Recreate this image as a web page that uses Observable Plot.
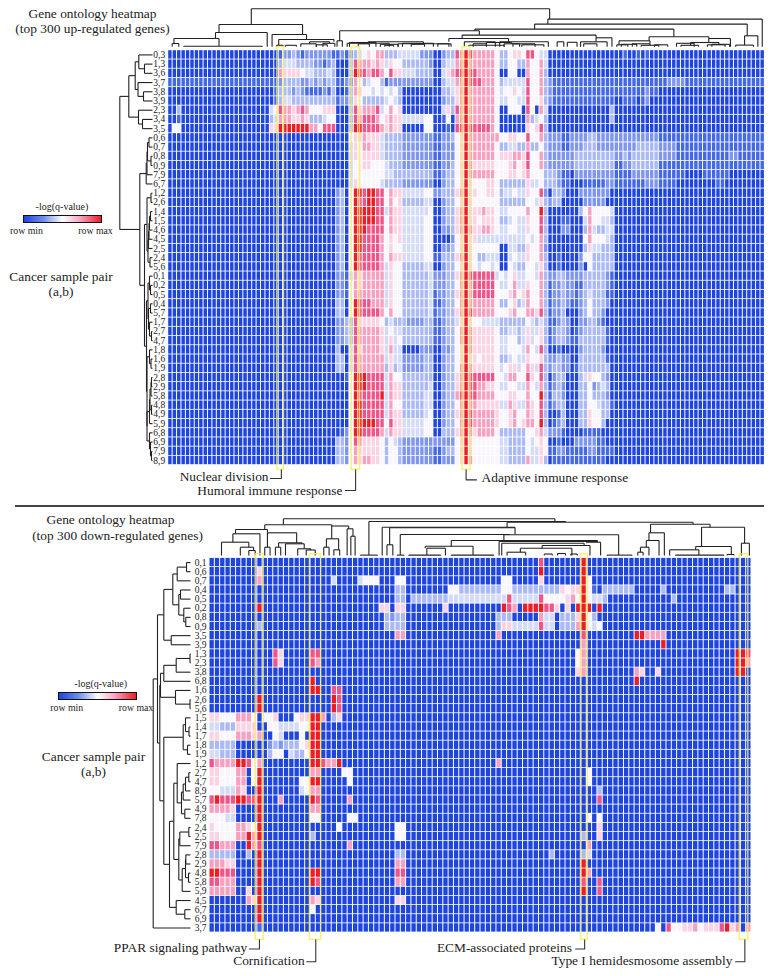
<!DOCTYPE html>
<html>
<head>
<meta charset="utf-8">
<script src="https://cdn.jsdelivr.net/npm/d3@7"></script>
<script src="https://cdn.jsdelivr.net/npm/@observablehq/plot@0.6"></script>
<style>
html,body{margin:0;padding:0;background:#fff}
#page{position:relative;width:772px;height:976px;overflow:hidden;font-family:"Liberation Serif",serif;color:#222}
#page svg{position:absolute;left:0;background:transparent}
.t{position:absolute;white-space:nowrap;transform:translate(-50%,-50%);text-align:center}
.bar{position:absolute;border:1px solid #111;box-sizing:border-box;background:linear-gradient(90deg,#1f45e0 0%,#6f8bee 25%,#fff 50%,#f9a6c4 72%,#ee1c25 100%)}
</style>
</head>
<body>
<div id="page"></div>
<script>
// Level code: 0 = row min (blue), 5 = white, 9 = row max (red)
const levelDomain = [0,1,2,3,4,5,6,7,8,9];
const levelColors = ["#1f45e0","#4468e6","#7f96ee","#abbaf4","#d3dbf9","#f8f6fc","#fcd3e2","#f8a0c0","#f0558a","#ee1c25"];

const upLabels = ["0,3","1,3","3,6","3,7","3,8","3,9","2,3","3,4","3,5","0,6","0,7","0,8","0,9","7,9","6,7","1,2","2,6","1,4","1,5","4,6","4,5","2,5","2,4","5,6","0,1","0,2","0,5","0,4","5,7","1,7","2,7","4,7","1,8","1,6","1,9","2,8","2,9","5,8","4,8","4,9","5,9","6,8","6,9","7,9","8,9"];
const downLabels = ["0,1","0,6","0,7","0,4","0,5","0,2","0,8","0,9","3,5","3,9","1,3","2,3","3,8","6,8","1,6","2,6","5,6","1,5","1,4","1,7","1,8","1,9","1,2","2,7","4,7","8,9","5,7","4,9","7,8","2,4","2,5","7,9","2,8","2,9","4,8","5,8","5,9","4,5","6,7","6,9","3,7"];

const upRows = [
"00000000000000000000000 001223212222221121 2345657 733344444222 0023387 9 877777 533566588544 000000000000000 0010010100000000000000000000000000",
"00000000000000000000000 003444333322123000 3877767 646553333332 0034477 9 777777 533553375574 000000000000000 0000000000000000000000000000000000",
"00000000000000000000000 007666654433343000 3988788 758664443333 0046788 9 887777 500550075573 000000000000000 0000000000000000000000000000000000",
"11111111111111111111111 112333322323233112 2753455 312222222222 0034477 9 888777 534444485573 211111111111111 1111111111112222111111111111111111",
"00000000000000000000000 013332321111213001 3765545 454530000000 0033467 9 777777 545565485573 211111111111111 1111111211000000000000000000000000",
"00000000000000000000000 013443333333333122 3653333 345430000000 0023367 9 777777 544554485563 211111111111111 0011101200000000000000000000000000",
"00300000000000000000000 458776787555666000 3867778 457560000000 0046387 9 777777 500555085074 000000000000003 0000000000000000000000000000000000",
"00100000000000000000000 347776676333455000 3878887 567664444455 0015077 9 777777 500000073453 000000000000003 0000000000000000000000000000000000",
"05500000000000000000000 669999999775888000 3998888 767660000055 0001088 9 888887 500000065683 000000000000000 0000000000000000000000000000000000",
"00000000000000000000000 000000000000000000 5667666 433332222222 1122356 9 777777 755665585573 222112222332222 2222222222111111111111111111111111",
"00000000000000000000000 000000000000000000 4657766 433332222222 1122256 9 777777 533443373353 222112223332222 2222233333222211111111111111111111",
"00000000000000000000000 000000000000000000 4656666 433332222222 1122256 9 777777 566677685573 222222333333333 2232333333222211111111111122111111",
"00000000000000000000000 000000000000000000 4556655 543332222222 1122356 9 766666 555675685573 222222333333333 1122333333111111111111111111111111",
"00000000000000000000000 000000000000000000 4555555 544333333333 1123356 9 777777 555665675553 332110222222222 1111222222111111000011111100000000",
"00000000000000000000000 000000000000000000 4655555 433332222222 0023356 9 655566 533333364453 332110001111122 1111111222111100000000011000000000",
"00000000000000000000000 000000000000000230 5998998 857664444455 2233367 9 665566 534454465582 033200022222220 0000000000000000000000000000000000",
"00000000000000000000000 000000000000000230 5988998 857563333344 0023356 9 655555 533333355463 233000002222200 0000000000000000000000000000000000",
"00000000000000000000000 000000000000000230 5999998 847664444445 0023367 9 666766 544555575593 000000035755554 0000000000000000000000000000000000",
"00000000000000000000000 000000000000000230 5999998 857664444455 0023367 9 665666 533454465583 000110004755443 0000000000000000000000000000000000",
"00000000000000000000000 000000000000000230 5999888 857664444455 0022367 9 766776 544554465583 000220003743344 0000000000000000000000000000000000",
"00000000000000000000000 000000000000000230 5998888 756564444455 0000256 9 664444 444444454573 000000005755543 0000000000000000000000000000000000",
"00000000000000000000000 000000000000000230 5998888 756554444455 0022356 9 655555 500443365572 000000003644333 0000000000000000000000000000000000",
"00000000000000000000000 000000000000000230 5988888 757664444455 1133367 9 653344 400454465573 001000025533333 0000000000000000000000000000000000",
"00000000000000000000000 000000000000000230 5988888 746553333344 0023356 9 654554 500543355463 001000020533333 0000000000000000000000000000000000",
"00000000000000000000000 000000000000000221 4767777 746553333334 2223367 9 888888 454564455473 223322223333321 0000000000000000000000000000000000",
"00000000000000000000000 000000000000000221 5767777 746553333334 2223357 9 788888 544574465573 122322113333321 0000000000000000000000000000000000",
"00000000000000000000000 000000000000000221 5777777 746553333334 1223367 9 788888 555675675573 122322123433311 0000000000000000000000000000000000",
"00000000000000000000000 000000000000000330 5988877 746553333334 1123357 9 777777 533563475573 122321123533320 0000000000000000000000000000000000",
"00000000000000000000000 000000000000000330 5988888 757553333334 1223367 9 877777 555675577683 122300023533200 0000000000000000000000000000000000",
"00000000000000000000000 000000000000000223 3866666 534333222233 1123346 9 655444 433333354343 112320022332100 0000000000000000000000000000000000",
"00000000000000000000000 000000000000000223 3877777 645443333333 1123357 9 766666 533443464463 123320123333310 0000000000000000000000000000000000",
"00000000000000000000000 000000000000000223 3877777 646453333333 1123357 9 766666 544553464563 123321133333310 0000000000000000000000000000000000",
"00000000000000000000000 000000000000000300 4867777 647440000222 0022356 9 766666 544555475483 001000023333200 0000000000000000000000000000000000",
"00000000000000000000000 000000000000000330 4877777 746442222233 0023356 9 665666 533454465563 223220033333310 0000000000000000000000000000000000",
"00000000000000000000000 000000000000000330 4877777 736342222233 0023357 9 766666 545664576483 233220133333330 0000000000000000000000000000000000",
"00000000000000000000000 000000000000000001 5999888 847553333333 0023367 9 888888 554775586583 023300034655320 0000000000000000000000000000000000",
"00000000000000000000000 000000000000000000 5999888 847663333334 0023367 9 887766 544554475473 123200033523430 0000000000000000000000000000000000",
"00000000000000000000000 000000000000000000 5988888 947663333344 0023378 9 887777 555665575593 133200033533320 0000000000000000000000000000000000",
"00000000000000000000000 000000000000000000 5998888 847553333344 0023357 9 776666 644764476583 123300033554331 0000000000000000000000000000000000",
"00000000000000000000000 000000000000000000 5998888 847663333345 0023367 9 877777 655675576583 001300033655330 0000000000000000000000000000000000",
"00000000000000000000000 000000000000000000 5999998 858664444455 0023357 9 877777 655675677593 012300033655300 0000000000000000000000000000000000",
"00000000000000000000000 000000000000000012 5998888 747664444455 0033367 9 767777 533333355674 222100001111000 0000000000000000000000000000000000",
"00000000000000000000000 000000000000000332 5876666 535432222222 2222256 9 655555 544333354565 001000222221100 0000000000000000000000000000000000",
"00000000000000000000000 000000000000000332 5766666 535532222222 1123356 9 655555 544333354465 112211111221111 0000000000000000000000000000000000",
"00000000000000000000000 000000000000000332 5767766 535532222222 1122256 9 755555 544333374463 011111111111100 0000000000000000000000000000000000"
];

const Z = "0000000000";
const downRows = [
[Z,Z,Z,Z,Z,Z,"0080000000","9000000000",Z,Z,"00"],
["0000000006",Z,Z,Z,Z,Z,"0090000000","9000000000",Z,Z,"00"],
["0000000007",Z,"0004000045","5500055000",Z,"0000055000","0060000000","9500000000",Z,Z,"00"],
[Z,Z,Z,"0000033000","0000055333","3333355333","3333336566","9510333333","0000030000","0000000330","00"],
[Z,Z,Z,"0000033033","3333344444","4444448444","4485555675","9544300000","0000000300",Z,"00"],
["0000000009",Z,Z,"0066066000","0000600000","0000098709","9998860609","9909000000",Z,Z,"00"],
[Z,Z,Z,"0003233000",Z,"0000333000","0074403336","9530000000",Z,Z,"00"],
["0000000003",Z,Z,"0003333000",Z,"0000366444","4484403337","9545000000",Z,Z,"00"],
[Z,Z,Z,"0000077000",Z,"0000700000",Z,"8000000000","9977770000",Z,"00"],
[Z,Z,Z,Z,Z,Z,Z,"7000000000","0000090000",Z,"00"],
[Z,"0086000008","8000000000",Z,Z,Z,"0000000005","7000000000",Z,"0000000009","98"],
[Z,"0086000008","7000000000",Z,Z,Z,"0000000005","7000000000",Z,"0000000009","97"],
[Z,Z,Z,Z,Z,Z,"0000000006","7000000000","7600600000","0000000009","90"],
[Z,"0000000009",Z,Z,Z,Z,Z,Z,"9000000000",Z,"00"],
[Z,"0000000009","9008800000",Z,Z,Z,Z,Z,Z,Z,"00"],
["0000000009",Z,"0009800000",Z,Z,Z,Z,Z,Z,Z,"00"],
["0000000009",Z,"0009800000",Z,Z,Z,Z,Z,Z,Z,"00"],
["6655577750","5560005669","9703600000",Z,Z,Z,Z,Z,Z,Z,"00"],
["4433366660","0554444559","9000000000",Z,Z,Z,Z,Z,Z,Z,"00"],
["6655577767","0054000509","9000000000",Z,Z,Z,Z,Z,Z,Z,"00"],
["3333300000","0232333569","9000000000",Z,Z,Z,Z,Z,Z,Z,"00"],
["4433300000","0355043359","9000000000",Z,Z,Z,Z,Z,Z,Z,"00"],
["8777799857","0000000009","9877900000",Z,Z,"0000700000",Z,Z,Z,Z,"00"],
["6655577059","0000000007","7000055000",Z,Z,Z,Z,"0500000000",Z,Z,"00"],
["6655577059","0000000559","9000005000",Z,Z,Z,Z,"0500000000",Z,Z,"00"],
["5544476009","0000000457","7000000000",Z,Z,Z,Z,"0003000000",Z,Z,"00"],
["8988899889","0007000009","8000007000",Z,Z,Z,Z,"0008000000",Z,Z,"00"],
["7777600009","0000000007","7000000000",Z,Z,Z,Z,Z,Z,Z,"00"],
["5554400009","0000000005","5000005500",Z,Z,Z,Z,"0505000000",Z,Z,"00"],
["6555577659",Z,"0000500000","0000055000",Z,Z,Z,"0006000000",Z,Z,"00"],
["6655577979","0000000003",Z,"0000055000",Z,Z,Z,"3006000000",Z,Z,"00"],
["8877700978",Z,"0000007000",Z,Z,Z,Z,"0700000000",Z,Z,"00"],
["3333300309",Z,Z,"0000033000",Z,Z,"0000300000","3400000000",Z,Z,"00"],
["7776600009",Z,Z,"0000077000",Z,Z,Z,"9000000000",Z,Z,"00"],
["9988800009","0000000009","9000000000","0000088000",Z,Z,Z,"9700000000",Z,Z,"00"],
["8877700009","0000000009","8000000000","0000077000",Z,Z,Z,"8008000000",Z,Z,"00"],
["7777700609",Z,Z,Z,Z,Z,Z,"9008000000",Z,Z,"00"],
["0000000769","0000000007","6000000000","0000066000",Z,Z,Z,Z,Z,Z,"00"],
["0000000009","0000000005",Z,Z,Z,Z,Z,Z,Z,Z,"00"],
["0000000009",Z,Z,Z,Z,Z,Z,Z,Z,Z,"00"],
["0000000001",Z,Z,Z,Z,Z,Z,Z,"0000508556","6756668967","07"]
];

// Dendrograms: node = [distance, child, child, optional position]; a bare number is a leaf.
const upRowTree = [32.7,
  [23.7,
    [17.3,[13.7,0,[8,1,2]],[14.5,3,[9,4,5]]],
    [14,6,[10,7,8]]],
  [12.7,
    [6.3,[5.5,[5,[3.5,9,10],[1.5,11,12]],13],14],
    [8,
      [5.5,[1.5,15,16],[4.5,[4,[3.5,[3,[2,17,18],19],20],21],[2.5,22,23]]],
      [6,
        [4.5,[3,24,[2,25,26]],[4,[2,27,28],[3,29,[1,30,31]]]],
        [5.5,[3,32,[1.5,33,34]],
          [5.5,[3,[2.5,[1.5,[1,35,36],37],[1,38,39]],40],[3,41,[2,42,[1,43,44]]]]]]]]];

const upColTrees = [
 [38,
  [22.3,
    [14.3,[8.3,[3.3,0.9,2.4,1.3],[0.6,3.5,21.3,11.5],10.7],22.4,11.5],
    [12.3,23.5,[7.3,[1.5,24.5,26,25],[5,[3,30,33.5,32],[3.5,35,37.7,36.5],37.5],31.3],30.4],
    18.8],
  [27.7,
    [22.7,
      [17.7,
        [16,[6,38.2,39.4,38.8],
          [11.7,
            [8.3,[5,[3.5,40.5,50],[3,52,63.5],63.5],[4.3,[1.5,68,76],[3,76,79.5],77],66.5],
            [9,[5,93.3,99.3,96.8],100.4,96.8],
            70.4],
          69.4],
        [10,
          [6,[2,101.5,104,102],[3,105,[1.5,107,111,109],109],108.8],
          [8.3,[4.3,[1.5,116,120,118.2],[2,122,126,124.6],122.3],127.2,122.3],
          114.4],
        82.9],
      [11,[1.7,128.4,132.4,130.4],133.4,131],
      85.9],
    134.4,
    86.3],
  45],
 [4.3,41,47],[3,43,45.5],[2.5,48,52],[1.5,49,51],[3.5,53,60],[2.5,55,58],[3,61,64],
 [5,67,74],[3,69,72],[5,75,86],[3,78,83],[2,80,85],[5,88,89.5],[4.5,90.3,92.5],
 [3,94,97],[2.5,102.5,106],[2,110,113],[3.5,115,119],[2.5,123,127],[1.5,26.5,29],[2,33.5,36]
];

const downRowTree = [37.3,
  [33,
    [26.7,
      [17.7,[13.3,[4,0,1],2],[11.7,[10,3,4],[6.7,5,[4.7,6,7]]]],
      [19.3,8,9]],
    [30.7,
      [30,[26.7,[14.3,[0.5,10,11],12],13],[15,14,[0.5,15,16]]],
      [26.7,
        [7.3,[5,17,[1.5,18,19]],[3,20,21]],
        [21,
          [16.7,
            [13.3,22,[9,[7.3,[5,[1.7,23,24],25],26],[5.7,27,28]]],
            [11.7,[10.7,[1.7,29,30],31],[8.3,[5,[4.7,32,33],[2,34,35]],36]]],
          [14.3,37,[5.7,38,39]]]]]],
  40];

const downColTrees = [
 [36.7,
  [30.7,
    [26,
      [21.7,[13.3,2.26,[8.3,5.8,[5,7.4,8.6,8.3],7.4],4.4],9.5,4.9],
      [22.7,[8.3,10.4,11.4,10.9],[12.7,[8.3,12.4,13.4,13],[11.7,14.3,[6.7,16.6,[5.5,18.2,19.9]],17.4],16.4],10.9],
      10.4],
    [29.5,
      [16.7,[8.3,21.5,22.5,22],[5.7,23.4,24.5,24.3],23],
      [26.7,25.9,[19.3,26.6,27.4],26.2],
      23],
    13.9],
  [34,
    [0.4,28.4,31.6,30],
    [33.3,
      [28.3,32.5,
        [27.7,[10.7,33.4,34.5,33.9],
          [21,[0.4,35.3,36.6,35.9],
            [20.7,
              [15,
                [9.3,[7.3,[0.4,37.5,43.5,40.9],44.4,40.6],[0.4,45.5,53.5,49.6],45.5],
                [14,54.5,[13.3,[12.3,55,[10,[7.3,[3.3,56,59.5,58.5],68.2,62.6],71.6,70.5],71],73.6,73],73],
                55.4],
              [0.4,74.8,79.5,77],
              56.5],
            57.5],
          57.5],
        56],
      [31.3,
        [22.7,[15,[8.3,[3.3,80.6,81.6,81.1],82.7,82.2],84.6,82.7],85.6,83],
        [28.3,
          [9,[5.7,86.6,[0.4,87.7,96.8,92.1],91.5],[1,97.4,98.7,98.2],92.6],
          [12.3,100.1,101.6,100.7],
          94.2],
        91],
      67],
    65],
  40],
 [1.5,63,64.5],[2,65.5,67],[1.5,68,69.2]
];

// Highlighted columns and their callouts
const upHighlights = [
  {x1:24.7,x2:26.2,label:"Nuclear division",   stem:25.6,row:46.45,turn:23.1,text:22.7,textRow:46.3,anchor:"end"},
  {x1:41.5,x2:43.4,label:"Humoral immune response",stem:42.4,row:47.75,turn:40.1,text:39.4,textRow:47.8,anchor:"end"},
  {x1:66.6,x2:68.4,label:"Adaptive immune response",stem:67.4,row:46.6,turn:69.75,text:70.9,textRow:46.4,anchor:"start"}
];
const downHighlights = [
  {x1:8.7,x2:10.2,label:"PPAR signaling pathway",stem:9.4,row:42.8,turn:7.5,text:7.1,textRow:42.7,anchor:"end"},
  {x1:18.9,x2:21,label:"Cornification",stem:20,row:44.2,turn:18.3,text:17.9,textRow:44.1,anchor:"end"},
  {x1:69.9,x2:71.2,label:"ECM-associated proteins",stem:70.6,row:42.8,turn:68.9,text:68.2,textRow:42.7,anchor:"end"},
  {x1:99.8,x2:101.4,label:"Type I hemidesmosome assembly",stem:100.75,row:44.2,turn:99,text:98.4,textRow:44.1,anchor:"end"}
];

function flatten(tree, leafPos, out){
  function walk(n){
    if (typeof n === "number") return {p:leafPos(n), h:0};
    const a = walk(n[1]), b = walk(n[2]);
    out.push({p1:a.p,h1:a.h,p2:a.p,h2:n[0]});
    out.push({p1:a.p,h1:n[0],p2:b.p,h2:n[0]});
    out.push({p1:b.p,h1:b.h,p2:b.p,h2:n[0]});
    return {p: n[3]!==undefined ? n[3] : (a.p+b.p)/2, h:n[0]};
  }
  walk(tree);
  return out;
}

function heatmap({rows,labels,rowTree,colTrees,highlights,height,left,right,top,bottom,colBase,rowBase,boxTop,boxBottom,nCols}){
  const cells = [];
  rows.forEach((r,i)=>{
    if (r.length!==nCols) throw new Error("row "+i+" has "+r.length+" cols, expected "+nCols);
    for (let c=0;c<r.length;c++) cells.push({c,r:i,v:+r[c]});
  });
  const nRows = rows.length;
  const colW = (right-left)/nCols, rowH = (bottom-top)/nRows;
  const rowSegs = flatten(rowTree,i=>i+.5,[]);
  const colSegs = [];
  colTrees.forEach(t=>flatten(t,c=>c,colSegs));
  const hx = d=>-(d+rowBase)/colW, hy = d=>-(d+colBase)/rowH;
  const ticks = d3.range(nRows).map(i=>i+.5);
  const textMark = anchor => Plot.text(highlights.filter(h=>h.anchor===anchor),{x:"text",y:"textRow",text:"label",textAnchor:anchor,fontSize:13.4,fill:"#222"});
  return Plot.plot({
    width:772,height,
    marginLeft:left,marginRight:772-right,marginTop:top,marginBottom:height-bottom,
    style:{fontFamily:"'Liberation Serif',serif",background:"transparent",overflow:"visible"},
    x:{domain:[0,nCols],axis:null},
    y:{domain:[0,nRows],reverse:true,axis:null},
    color:{type:"linear",domain:levelDomain,range:levelColors},
    marks:[
      Plot.rect(cells,{x1:"c",x2:d=>d.c+1,y1:"r",y2:d=>d.r+1,fill:"v",insetLeft:0.5,insetRight:0.5,insetTop:0.4,insetBottom:0.4}),
      Plot.axisY({ticks,tickFormat:t=>labels[t-.5],tickSize:0,tickPadding:3,anchor:"left",label:null,fontSize:9.5,fill:"#222"}),
      Plot.link(rowSegs,{x1:d=>hx(d.h1),y1:"p1",x2:d=>hx(d.h2),y2:"p2",stroke:"#222",strokeWidth:1.1}),
      Plot.link(colSegs,{x1:"p1",y1:d=>hy(d.h1),x2:"p2",y2:d=>hy(d.h2),stroke:"#222",strokeWidth:1.1}),
      Plot.rect(highlights,{x1:"x1",x2:"x2",y1:boxTop,y2:boxBottom,fill:"none",stroke:"#f6ee55",strokeWidth:1.4,strokeOpacity:.85}),
      Plot.line(highlights.flatMap((h,i)=>[{x:h.stem,y:boxBottom,i},{x:h.stem,y:h.row,i},{x:h.turn,y:h.row,i}]),{x:"x",y:"y",z:"i",stroke:"#333",strokeWidth:1.1}),
      textMark("end"),
      textMark("start")
    ]
  });
}

const page = document.getElementById("page");
const svg1 = heatmap({rows:upRows.map(s=>s.replace(/ /g,"")),labels:upLabels,rowTree:upRowTree,colTrees:upColTrees,highlights:upHighlights,
  height:505,left:167.7,right:764.4,top:49.8,bottom:464.6,colBase:3.5,rowBase:15.7,boxTop:-0.35,boxBottom:45.5,nCols:135});
svg1.style.top="0px"; page.appendChild(svg1);
const svg2 = heatmap({rows:downRows.map(s=>s.join("")),labels:downLabels,rowTree:downRowTree,colTrees:downColTrees,highlights:downHighlights,
  height:470,left:209,right:751,top:51.5,bottom:426,colBase:2.5,rowBase:19,boxTop:-0.4,boxBottom:41.8,nCols:102});
svg2.style.top="506px"; page.appendChild(svg2);

const rule=document.createElement("div");
rule.style.cssText="position:absolute;left:15px;top:505px;width:749px;height:1.5px;background:#444";
page.appendChild(rule);

function put(text,x,y,size){
  const d=document.createElement("div");d.className="t";d.textContent=text;
  d.style.left=x+"px";d.style.top=y+"px";d.style.fontSize=size+"px";page.appendChild(d);
}
function bar(x,y,w,h){
  const d=document.createElement("div");d.className="bar";
  d.style.cssText+=`left:${x}px;top:${y}px;width:${w}px;height:${h}px`;page.appendChild(d);
}
put("Gene ontology heatmap",92.5,14,13.4);
put("(top 300 up-regulated genes)",92.5,28.5,13.4);
put("Cancer sample pair",61,277,13.4);
put("(a,b)",61,292,13.4);
put("-log(q-value)",62,206,10);
bar(22.5,215,79,8);
put("row min",26.5,229.5,9.8);
put("row max",95.5,229.5,9.8);

put("Gene ontology heatmap",110.5,520,13.4);
put("(top 300 down-regulated genes)",117.5,536,13.4);
put("Cancer sample pair",93.5,757,13.4);
put("(a,b)",93.5,772,13.4);
put("-log(q-value)",100.7,682.7,10);
bar(58,692,79,8);
put("row min",66.7,706.7,9.8);
put("row max",136,706.7,9.8);
</script>
</body>
</html>
